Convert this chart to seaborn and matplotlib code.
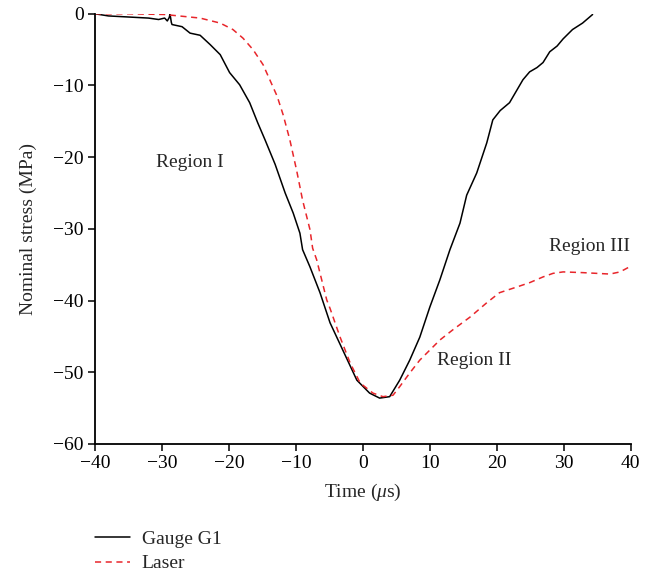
import matplotlib
matplotlib.use("Agg")
import matplotlib.pyplot as plt
import seaborn as sns
import pandas as pd

# Gauge G1 (black, solid)
gauge_t = [-40, -38, -36, -34, -32, -30.5, -29.6, -29.2, -28.9, -28.8, -28.6, -28.5,
           -27, -25.8, -24.3, -22.8, -21.3, -19.9, -18.4, -16.9, -15.7, -14.6, -13.1,
           -11.6, -10.4, -9.4, -9.0, -7.9, -6.4, -4.9, -3.0, -0.9, 1.0, 2.5, 4.0,
           5.5, 7.0, 8.5, 10.0, 11.5, 13.0, 14.5, 15.5, 17.0, 18.5, 19.4, 20.5, 21.9,
           23.9, 24.9, 26.0, 26.9, 27.9, 29.0, 29.9, 31.3, 32.8, 34.3]
gauge_s = [0.0, -0.3, -0.4, -0.5, -0.6, -0.8, -0.6, -1.0, -0.5, 0.0, -1.2, -1.5,
           -1.8, -2.7, -3.0, -4.3, -5.7, -8.2, -9.9, -12.4, -15.2, -17.6, -21.0,
           -25.0, -27.8, -30.6, -32.9, -35.3, -38.9, -43.1, -46.9, -51.1, -52.9, -53.6, -53.4,
           -51.1, -48.3, -45.1, -40.9, -37.1, -32.9, -29.2, -25.3, -22.2, -18.0, -14.8, -13.5, -12.4,
           -9.2, -8.1, -7.5, -6.8, -5.3, -4.5, -3.5, -2.2, -1.3, -0.1]

# Laser (red, dashed)
laser_t = [-40, -35, -29.6, -24.3, -21.3, -19.4, -17.9, -16.4, -14.9, -13.9, -12.8,
           -11.9, -10.9, -9.9, -9.0, -7.9, -7.5, -6.9, -5.4, -4.9, -3.4, -1.9, -0.4,
           1.5, 3.0, 4.5, 5.5, 7.0, 8.5, 10.0, 11.5, 13.4, 16.0, 18.5, 20.4, 23.0,
           24.9, 26.9, 28.4, 29.9, 32.8, 36.9, 38.4, 40.0]
laser_s = [0.0, 0.0, -0.1, -0.6, -1.3, -2.2, -3.4, -5.0, -7.1, -9.2, -11.5,
           -14.1, -17.6, -21.8, -26.0, -30.1, -32.7, -34.3, -39.9, -41.1, -45.1, -48.7, -51.5,
           -52.9, -53.4, -53.2, -52.0, -50.1, -48.3, -46.9, -45.5, -44.1, -42.3, -40.3, -38.9, -38.1,
           -37.5, -36.7, -36.2, -36.0, -36.1, -36.3, -36.0, -35.2]

series_names = ["Gauge G1", "Laser"]
x_ticks = [-40, -30, -20, -10, 0, 10, 20, 30, 40]
y_ticks = [-60, -50, -40, -30, -20, -10, 0]

df = pd.concat([
    pd.DataFrame({"t": gauge_t, "s": gauge_s, "series": series_names[0]}),
    pd.DataFrame({"t": laser_t, "s": laser_s, "series": series_names[1]}),
], ignore_index=True)

sns.set_style("ticks")
plt.rcParams["font.family"] = ["Liberation Serif", "DejaVu Serif"]
plt.rcParams["mathtext.fontset"] = "custom"
plt.rcParams["mathtext.rm"] = "Liberation Serif"
plt.rcParams["mathtext.it"] = "Liberation Serif:italic"

FS = 14

fig = plt.figure(figsize=(6.55, 5.74), dpi=100)
ax = fig.add_axes([0.145, 0.2265, 0.818, 0.7495])

sns.lineplot(data=df, x="t", y="s", hue="series", style="series",
             palette={"Gauge G1": "black", "Laser": "#e8262b"},
             dashes={"Gauge G1": "", "Laser": (4, 3)},
             sort=False, estimator=None, linewidth=1.1, ax=ax)

ax.set_xlim(-40, 40)
ax.set_ylim(-60, 0)
ax.set_xticks(x_ticks)
ax.set_yticks(y_ticks)
ax.tick_params(labelsize=FS, direction="out", length=5, width=1.1, colors="black", pad=3)
for side in ["top", "right"]:
    ax.spines[side].set_visible(False)
for side in ["left", "bottom"]:
    ax.spines[side].set_linewidth(1.3)
    ax.spines[side].set_color("black")

ax.set_xlabel("Time ($\\mu\\mathrm{s}$)", fontsize=FS, labelpad=7)
ax.set_ylabel("Nominal stress (MPa)", fontsize=FS, labelpad=12)

ax.text(-25.8, -20.8, "Region I", fontsize=FS, ha="center", va="center")
ax.text(16.6, -48.4, "Region II", fontsize=FS, ha="center", va="center")
ax.text(33.9, -32.5, "Region III", fontsize=FS, ha="center", va="center")

handles, labels = ax.get_legend_handles_labels()
ax.get_legend().remove()
fig.legend(handles, labels, loc="upper left", bbox_to_anchor=(0.145, 0.076),
           frameon=False, fontsize=FS, handlelength=1.8, handletextpad=0.6,
           labelspacing=0.35, borderaxespad=0, borderpad=0)

fig.savefig("out.png", dpi=100)
